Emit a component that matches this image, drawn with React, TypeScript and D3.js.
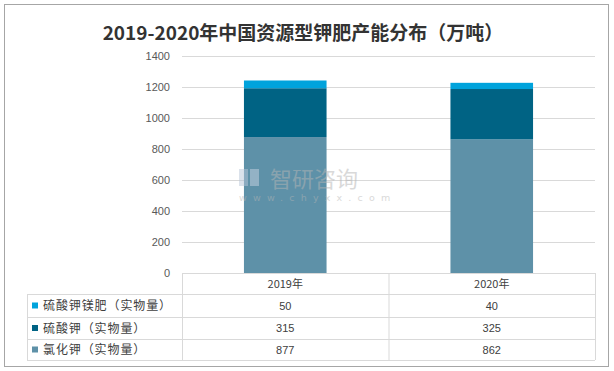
import React from "react";
import * as d3 from "d3";

// 2019-2020 China resource-type potash capacity (10k tons)
const years = ["2019年", "2020年"];
const kcl = [877, 862]; // 氯化钾
const k2so4 = [315, 325]; // 硫酸钾
const kmg = [50, 40]; // 硫酸钾镁肥
const seriesNames = ["硫酸钾镁肥（实物量）", "硫酸钾（实物量）", "氯化钾（实物量）"];
const yTicks = [0, 200, 400, 600, 800, 1000, 1200, 1400];

const colors: Record<string, string> = {
  kmg: "#00a3dc",
  k2so4: "#006384",
  kcl: "#5e91a8",
};

const W = 614;
const H = 371;
const FONT = "'Noto Sans CJK SC', 'Noto Sans', sans-serif";

function App() {
  const x = d3.scaleBand<string>().domain(years).range([182, 595]).padding(0);
  const y = d3.scaleLinear().domain([0, 1400]).range([273, 56]);
  const barW = x.bandwidth() * 0.4;

  const rows = years.map((yr, i) => ({ year: yr, kcl: kcl[i], k2so4: k2so4[i], kmg: kmg[i] }));
  const stacked = d3.stack<any>().keys(["kcl", "k2so4", "kmg"])(rows);

  // table rows (top to bottom)
  const tableRows = [
    { name: seriesNames[0], key: "kmg", vals: kmg },
    { name: seriesNames[1], key: "k2so4", vals: k2so4 },
    { name: seriesNames[2], key: "kcl", vals: kcl },
  ];
  const rowY = [273, 294, 317, 339, 360];
  const tableLeft = 27;
  const plotLeft = 182;
  const plotRight = 595;
  const grid = "#d9d9d9";

  return (
    <svg width={W} height={H} style={{ position: "absolute", left: 0, top: 0, fontFamily: FONT }}>
      <rect x={0} y={0} width={W} height={H} fill="#fff" />
      <rect x={4.5} y={4.5} width={604} height={362} fill="#fff" stroke="#a6a6a6" strokeWidth={1} />

      <text x={303} y={40} textAnchor="middle" fontSize={19} fontWeight="bold" fill="#333">
        2019-2020年中国资源型钾肥产能分布（万吨）
      </text>

      {/* gridlines and y ticks */}
      {yTicks.map((t) => (
        <g key={t}>
          {t > 0 && (
            <line x1={plotLeft} x2={plotRight} y1={Math.round(y(t)) + 0.5} y2={Math.round(y(t)) + 0.5} stroke={grid} />
          )}
          <text x={170} y={y(t) + 4} textAnchor="end" fontSize={11} fill="#595959" fontFamily="'Liberation Sans', Arial, sans-serif">
            {t}
          </text>
        </g>
      ))}

      {/* stacked bars */}
      {stacked.map((s) => (
        <g key={s.key} fill={colors[s.key]}>
          {s.map((d, i) => (
            <rect
              key={i}
              x={(x(years[i]) as number) + (x.bandwidth() - barW) / 2}
              y={y(d[1])}
              width={barW}
              height={y(d[0]) - y(d[1])}
            />
          ))}
        </g>
      ))}

      {/* watermark */}
      <g opacity={0.5}>
        <rect x={239} y={169} width={9} height={17} fill="#b8c6d8" />
        <rect x={250} y={169} width={9} height={17} fill="#c9d4e2" />
        <text x={270} y={187} fontSize={22} fill="#b5b5b5">智研咨询</text>
        <text x={239} y={201} fontSize={9.5} fill="#b5b5b5" letterSpacing={6.2} fontFamily="'DejaVu Sans', sans-serif">
          www.chyxx.com
        </text>
      </g>

      {/* data table */}
      <g stroke={grid} strokeWidth={1} fill="none">
        <line x1={plotLeft} x2={plotRight} y1={rowY[0] + 0.5} y2={rowY[0] + 0.5} />
        {rowY.slice(1).map((ry) => (
          <line key={ry} x1={tableLeft} x2={plotRight} y1={ry + 0.5} y2={ry + 0.5} />
        ))}
        <line x1={tableLeft + 0.5} x2={tableLeft + 0.5} y1={rowY[1]} y2={rowY[4]} />
        <line x1={plotLeft + 0.5} x2={plotLeft + 0.5} y1={rowY[0]} y2={rowY[4]} />
        <line x1={x(years[1])! + 0.5} x2={x(years[1])! + 0.5} y1={rowY[0]} y2={rowY[4]} />
        <line x1={plotRight + 0.5} x2={plotRight + 0.5} y1={rowY[0]} y2={rowY[4]} />
      </g>

      {years.map((yr) => (
        <text key={yr} x={x(yr)! + x.bandwidth() / 2} y={(rowY[0] + rowY[1]) / 2 + 4} textAnchor="middle" fontSize={11} fill="#404040">
          {yr}
        </text>
      ))}

      {tableRows.map((r, ri) => {
        const cy = (rowY[ri + 1] + rowY[ri + 2]) / 2;
        return (
          <g key={r.key}>
            <rect x={32} y={cy - 3} width={6} height={6} fill={colors[r.key]} />
            <text x={43} y={cy + 4.5} fontSize={12} fill="#404040" letterSpacing={0.9}>
              {r.name}
            </text>
            {r.vals.map((v, i) => (
              <text
                key={i}
                x={x(years[i])! + x.bandwidth() / 2}
                y={cy + 4}
                textAnchor="middle"
                fontSize={11}
                fill="#404040"
                fontFamily="'Liberation Sans', Arial, sans-serif"
              >
                {v}
              </text>
            ))}
          </g>
        );
      })}
    </svg>
  );
}

export default App;
